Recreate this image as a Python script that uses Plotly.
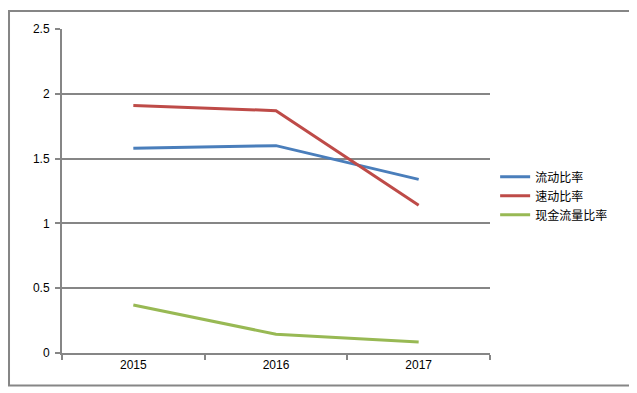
import plotly.graph_objects as go

years = ["2015", "2016", "2017"]
current_ratio = [1.58, 1.60, 1.34]
quick_ratio = [1.91, 1.87, 1.14]
cash_flow_ratio = [0.37, 0.145, 0.085]
series_names = ["流动比率", "速动比率", "现金流量比率"]
colors = ["#4A7EBB", "#BE4B48", "#98B954"]

fig = go.Figure()
for name, vals, c in zip(series_names, [current_ratio, quick_ratio, cash_flow_ratio], colors):
    fig.add_trace(go.Scatter(x=years, y=vals, name=name, mode="lines",
                             line=dict(color=c, width=3)))

grey = "#868686"
fig.update_layout(
    width=629, height=385,
    margin=dict(l=54, r=147, t=21, b=40),
    paper_bgcolor="white", plot_bgcolor="white",
    font=dict(family="Noto Sans CJK SC, Liberation Sans, sans-serif", size=12, color="black"),
    legend=dict(x=1.012, y=0.485, xanchor="left", yanchor="middle",
                font=dict(size=12), itemwidth=30, tracegroupgap=0),
    xaxis=dict(type="category", range=[-0.5, 2.5], tickson="boundaries",
               ticks="outside", ticklen=5, tickwidth=2, tickcolor=grey,
               showline=True, linecolor=grey, linewidth=2, showgrid=False,
               tickfont=dict(family="Liberation Sans, sans-serif", size=12)),
    yaxis=dict(range=[0, 2.5], dtick=0.5, ticks="outside", ticklen=5, tickwidth=2,
               tickcolor=grey, showline=True, linecolor=grey, linewidth=2,
               showgrid=True, gridcolor=grey, gridwidth=2, zeroline=False,
               ticklabelstandoff=3,
               tickfont=dict(family="Liberation Sans, sans-serif", size=12)),
    shapes=[dict(type="rect", xref="paper", yref="paper",
                 x0=-0.1238, x1=1.3306, y0=-0.1003, y1=1.0555,
                 line=dict(color=grey, width=2), fillcolor="rgba(0,0,0,0)", layer="above")],
)

fig.write_html("out.html")
